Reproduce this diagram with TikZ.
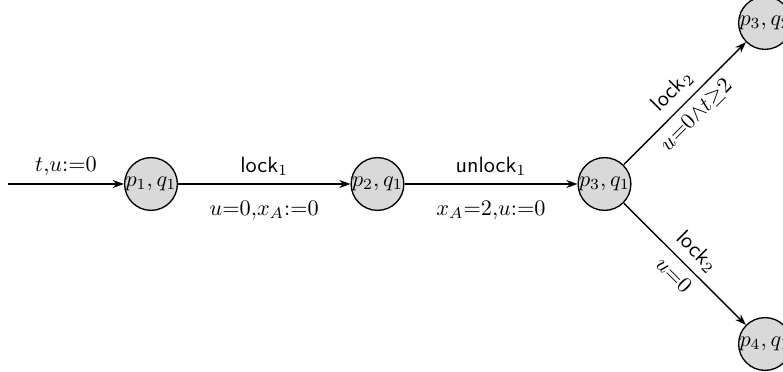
\documentclass[tikz,border=0pt]{standalone}
\usetikzlibrary{arrows.meta}
\begin{document}
\begin{tikzpicture}[x=0.45pt,y=-0.45pt,
  state/.style={circle,draw,fill=gray!30,minimum size=22.5pt,inner sep=0pt,semithick},
  trans/.style={-{Stealth[length=5pt,width=3.6pt]},semithick}]
\useasboundingbox (0,0) rectangle (783,372);
\clip (0,0) rectangle (783,372);
\node[state] (a) at (151,184) {$p_1,q_1$};
\node[state] (b) at (377.5,184) {$p_2,q_1$};
\node[state] (c) at (604.5,184) {$p_3,q_1$};
\node[state] (d) at (765,23) {$p_3,q_2$};
\node[state] (e) at (765,344) {$p_4,q_1$};
\coordinate (s) at (8,184);
\draw[trans] (s) -- node[above] {$t{,}u{:=}0$} (a);
\draw[trans] (a) -- node[above] {\textsf{lock}$_1$} node[below=4pt] {$u{=}0{,}x_A{:=}0$} (b);
\draw[trans] (b) -- node[above] {\textsf{unlock}$_1$} node[below=4pt] {$x_A{=}2{,}u{:=}0$} (c);
\draw[trans] (c) -- node[above,sloped] {\textsf{lock}$_2$} node[below,sloped] {$u{=}0{\wedge}t{\geq}2$} (d);
\draw[trans] (c) -- node[above,sloped] {\textsf{lock}$_2$} node[below,sloped] {$u{=}0$} (e);
\end{tikzpicture}
\end{document}
